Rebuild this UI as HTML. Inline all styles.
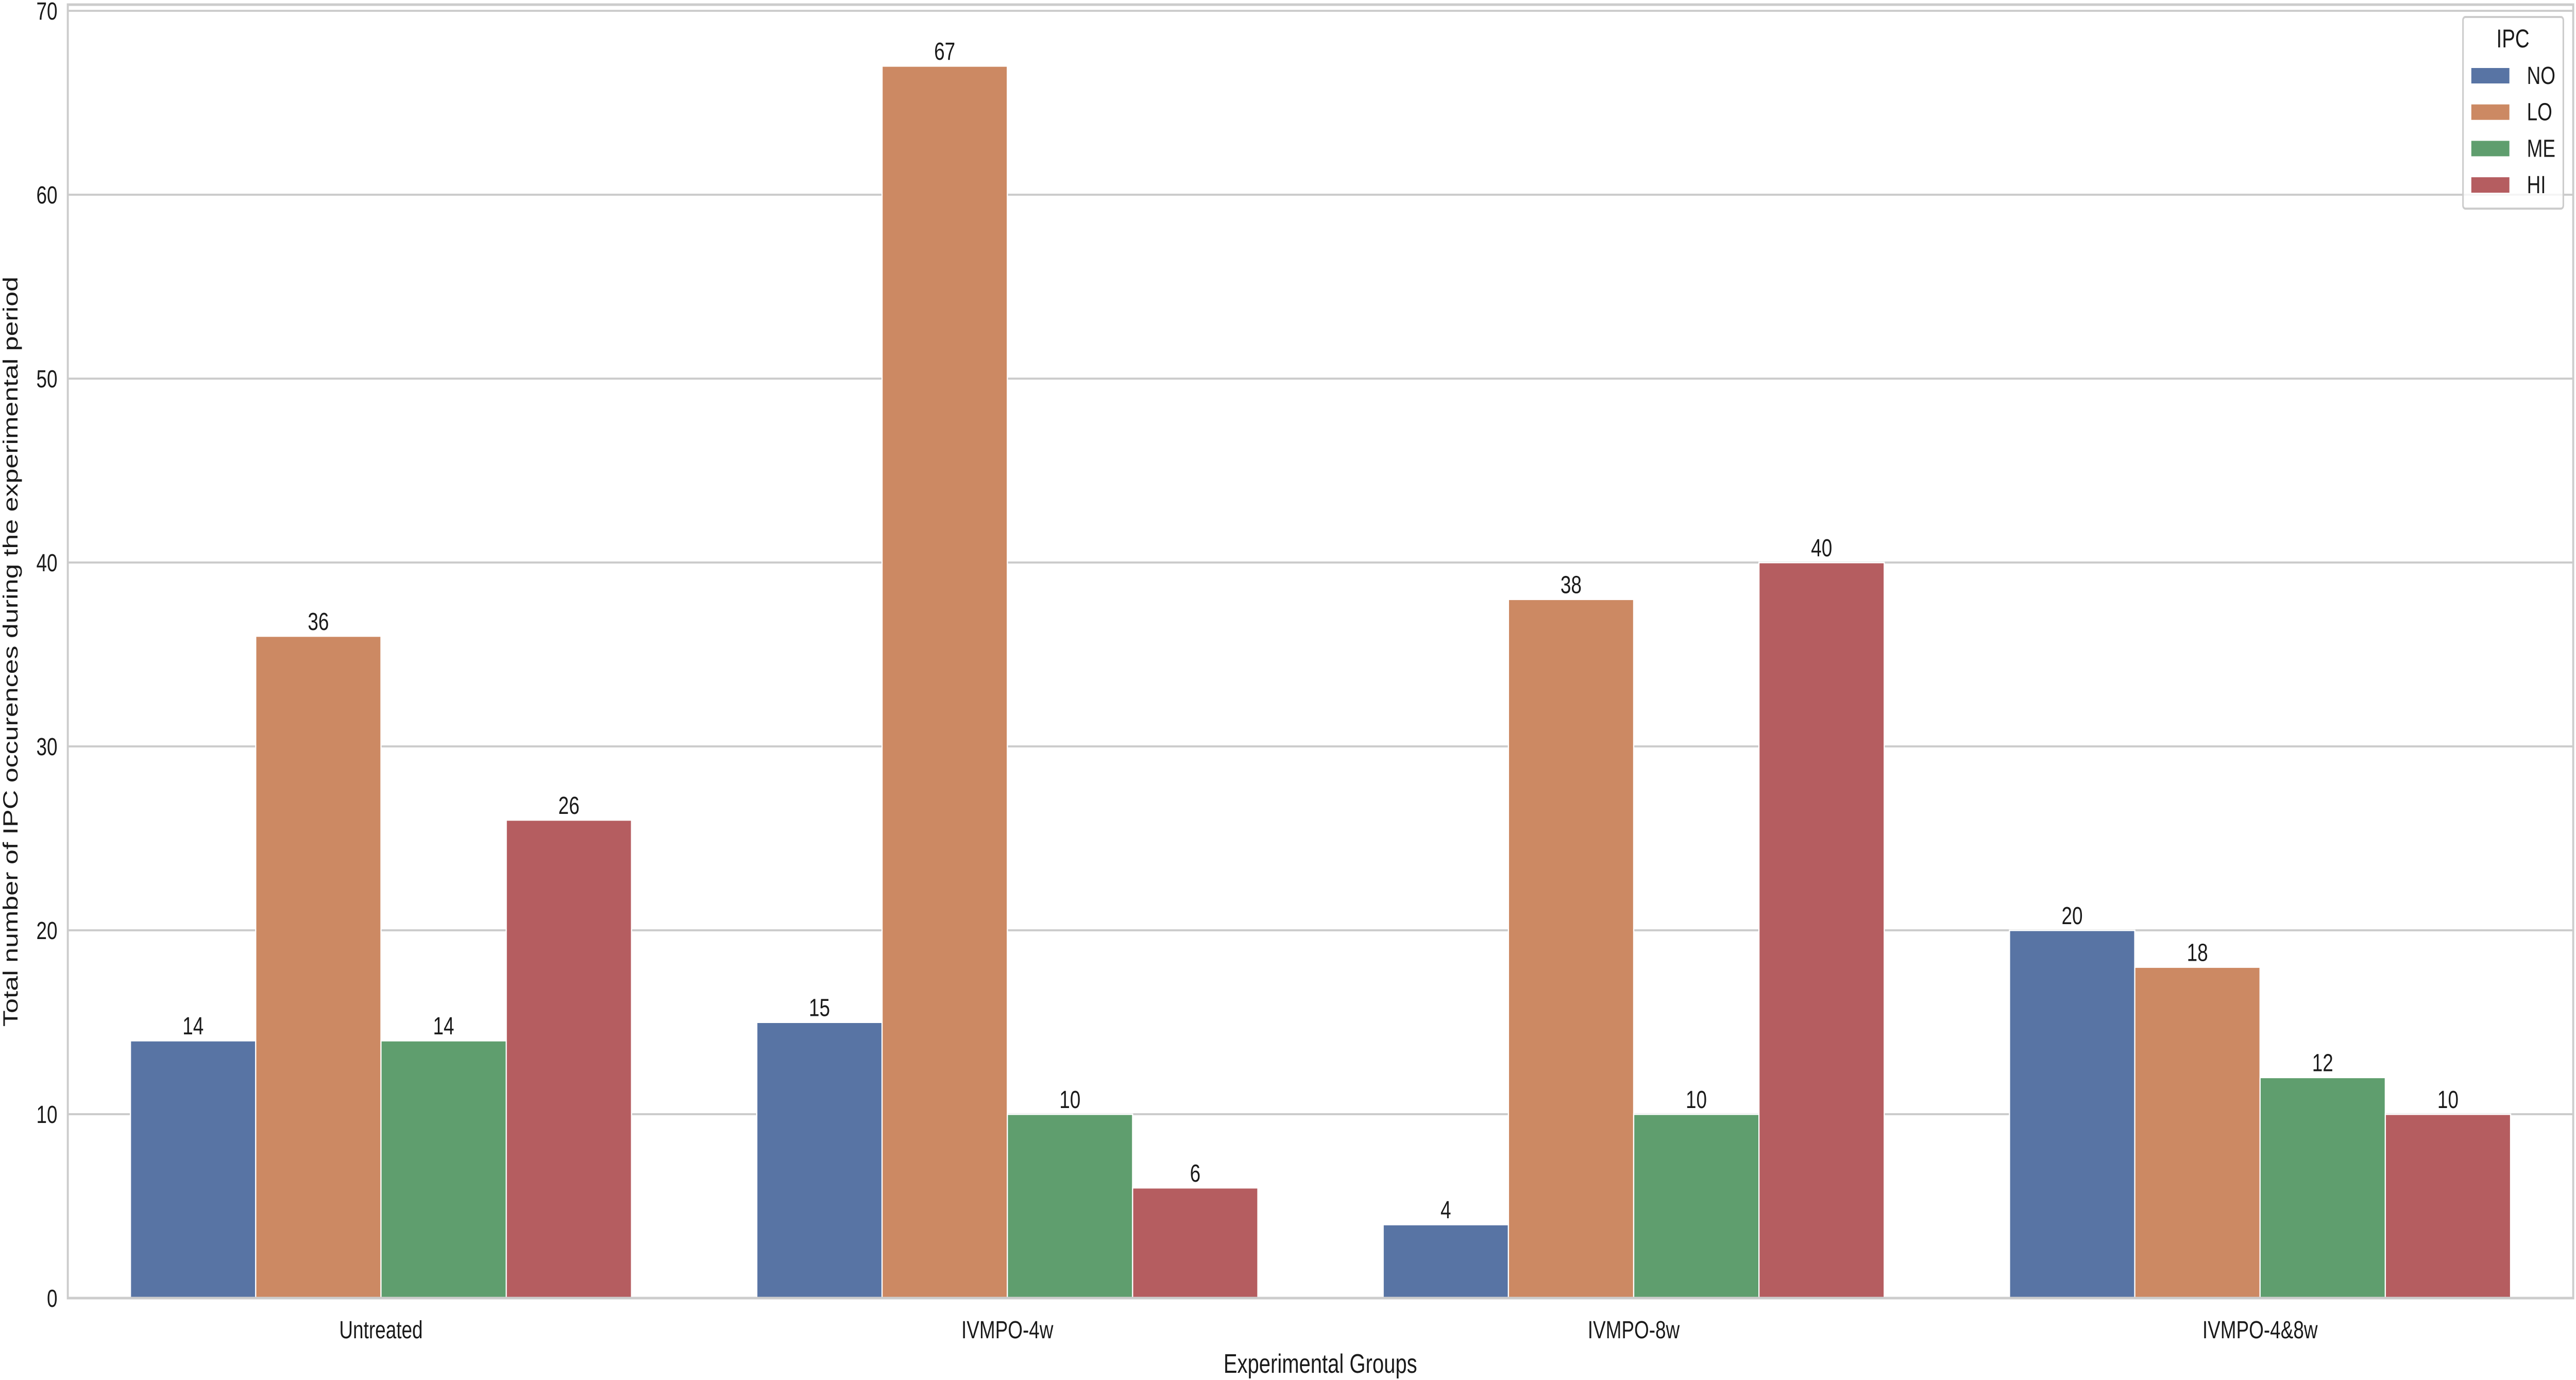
<!DOCTYPE html>
<html><head><meta charset="utf-8">
<style>
html,body{margin:0;padding:0;background:#fff;width:100%;height:100%;overflow:hidden;}
svg{display:block;width:100vw;height:100vh;font-family:"Liberation Sans","DejaVu Sans",sans-serif;}
</style></head>
<body>
<svg id="chart" viewBox="0 0 6497 2679" preserveAspectRatio="none" xmlns="http://www.w3.org/2000/svg">
<rect x="0" y="0" width="6497" height="2679" fill="#ffffff"/>
<g id="grid"></g>
<g id="bars"></g>
<g id="labels"></g>
<g id="axes"></g>
<text x="3330" y="2665" font-size="52" text-anchor="middle" fill="#1a1a1a">Experimental Groups</text>
<text transform="translate(44,1265) rotate(-90)" font-size="52" text-anchor="middle" fill="#1a1a1a">Total number of IPC occurences during the experimental period</text>
<g id="legend">
  <rect x="6212" y="33" width="253" height="372" rx="6" fill="#ffffff" fill-opacity="0.8" stroke="#cccccc" stroke-width="4"/>
  <text x="6338" y="92" font-size="50" text-anchor="middle" fill="#1a1a1a">IPC</text>
</g>
</svg>
<script>
const categories = ["Untreated", "IVMPO-4w", "IVMPO-8w", "IVMPO-4&8w"];
const seriesNames = ["NO", "LO", "ME", "HI"];
const valuesNO = [14, 15, 4, 20];
const valuesLO = [36, 67, 38, 18];
const valuesME = [14, 10, 10, 12];
const valuesHI = [26, 6, 40, 10];
const yTicks = [0, 10, 20, 30, 40, 50, 60, 70];
const colors = ["#5874a4", "#cc8963", "#5f9e6e", "#b55d60"];

const NS = "http://www.w3.org/2000/svg";
const L = 171, R = 6490, TOP = 9, Y0 = 2520, PX_PER_UNIT = 35.7;
const catW = (R - L) / categories.length;
function xScale(ci){ return L + catW * (ci + 0.5); }
function yScale(v){ return Y0 - v * PX_PER_UNIT; }
function mk(tag, attrs, parent){ const e = document.createElementNS(NS, tag); for (const k in attrs) e.setAttribute(k, attrs[k]); parent.appendChild(e); return e; }

const grid = document.getElementById("grid");
const axes = document.getElementById("axes");
const bars = document.getElementById("bars");
const labels = document.getElementById("labels");
const legend = document.getElementById("legend");

yTicks.forEach(t => {
  const y = yScale(t);
  const gl = mk("line", {x1: L, x2: R, y1: y, y2: y, stroke: "#cccccc", "stroke-width": 4}, grid);
  
  
  const tl = mk("text", {x: 145, y: y + 17, "font-size": 48, "text-anchor": "end", fill: "#1a1a1a"}, axes);
  tl.textContent = t;
  
  
});

const frame = mk("rect", {x: L, y: TOP, width: R - L, height: Y0 - TOP, fill: "none", stroke: "#cccccc", "stroke-width": 5}, axes);



const allSeries = [valuesNO, valuesLO, valuesME, valuesHI];
const barW = catW * 0.8 / seriesNames.length;
categories.forEach((c, ci) => {
  const cx = xScale(ci);
  const cl = mk("text", {x: cx, y: 2598, "font-size": 48, "text-anchor": "middle", fill: "#1a1a1a"}, axes);
  cl.textContent = c;
  
  
  allSeries.forEach((vals, si) => {
    const v = vals[ci];
    const x0 = cx - catW * 0.4 + si * barW;
    const r = mk("rect", {x: x0, y: yScale(v), width: barW, height: Y0 - yScale(v), fill: colors[si], stroke: "#ffffff", "stroke-width": 3}, bars);
    
    
    const vl = mk("text", {x: x0 + barW / 2, y: yScale(v) - 12, "font-size": 48, "text-anchor": "middle", fill: "#1a1a1a"}, labels);
    vl.textContent = v;
    
    
  });
});

seriesNames.forEach((n, si) => {
  const yTop = 132 + si * 70.7;
  const p = mk("rect", {x: 6233, y: yTop, width: 96, height: 30, fill: colors[si]}, legend);
  
  
  const t = mk("text", {x: 6373, y: yTop + 31, "font-size": 48, fill: "#1a1a1a"}, legend);
  t.textContent = n;
  
  
});
</script>
</body></html>
